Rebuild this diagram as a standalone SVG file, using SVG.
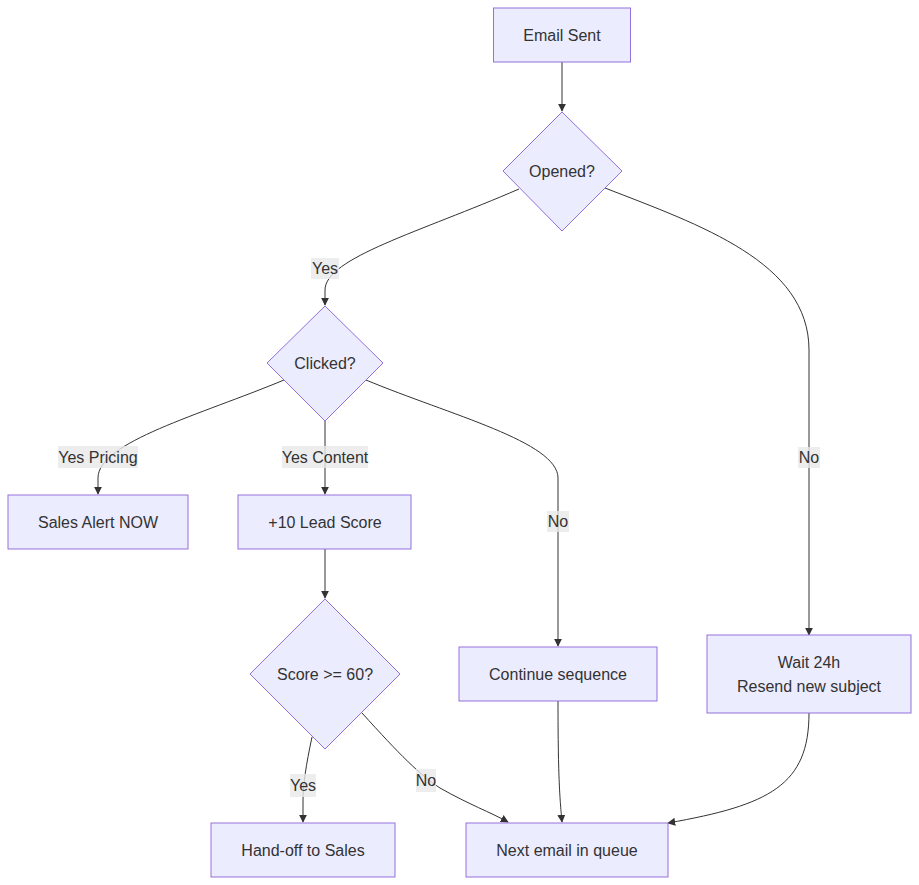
<svg xmlns="http://www.w3.org/2000/svg" width="919" height="885" viewBox="0 0 919 885">
<style>
.n rect,.n polygon{fill:#ECECFF;stroke:#9370DB;stroke-width:1}
.n text,.lbl text{font-family:"Liberation Sans",Arial,sans-serif;font-size:16px;fill:#333;text-anchor:middle;dominant-baseline:central}
.e path{fill:none;stroke:#333;stroke-width:1}
.lbl rect{fill:#E8E8E8;fill-opacity:0.8;stroke:none}
</style>
<defs>
<marker id="ah" viewBox="0 0 10 10" refX="9" refY="5" markerWidth="8" markerHeight="8" markerUnits="userSpaceOnUse" orient="auto">
<path d="M0,0 L10,5 L0,10 z" fill="#333"/>
</marker>
</defs>
<rect width="919" height="885" fill="#fff"/>
<g id="edges" class="e">
<path d="M562,62 L562,111" marker-end="url(#ah)"/>
<path d="M519,189 C420,232 325,258 325,290 L325,305" marker-end="url(#ah)"/>
<path d="M605,188 C700,225 809,262 809,350 L809,635" marker-end="url(#ah)"/>
<path d="M284,380 C200,415 98,442 98,478 L98,494" marker-end="url(#ah)"/>
<path d="M325,421 L325,494" marker-end="url(#ah)"/>
<path d="M366,380 C450,415 558,442 558,478 L558,646" marker-end="url(#ah)"/>
<path d="M325,549 L325,598" marker-end="url(#ah)"/>
<path d="M312,737 C306,765 303,785 303,800 L303,822" marker-end="url(#ah)"/>
<path d="M362,713 C400,755 420,775 440,788 C470,805 490,812 508,822" marker-end="url(#ah)"/>
<path d="M558,701 C558,780 560,800 562,822" marker-end="url(#ah)"/>
<path d="M809,713 C809,785 770,805 668,823" marker-end="url(#ah)"/>
</g>
<g id="labels" class="lbl">
<g><rect x="311" y="258" width="28" height="21"/><text x="325" y="268.5">Yes</text></g>
<g><rect x="798" y="447" width="22" height="21"/><text x="809" y="457.5">No</text></g>
<g><rect x="58" y="446" width="80" height="22"/><text x="98" y="457">Yes Pricing</text></g>
<g><rect x="282" y="446" width="86" height="22"/><text x="325" y="457">Yes Content</text></g>
<g><rect x="547" y="511" width="22" height="21"/><text x="558" y="521.5">No</text></g>
<g><rect x="290" y="774" width="26" height="23"/><text x="303" y="785">Yes</text></g>
<g><rect x="416" y="769" width="20" height="23"/><text x="426" y="780">No</text></g>
</g>
<g id="email_sent" class="n"><rect x="493.5" y="8" width="137" height="54"/><text x="562" y="35">Email Sent</text></g>
<g id="opened" class="n"><polygon points="562,112 622,171 562,231 503,171"/><text x="562" y="171">Opened?</text></g>
<g id="clicked" class="n"><polygon points="325,306 383,363 325,421 267,363"/><text x="325" y="363">Clicked?</text></g>
<g id="sales_alert" class="n"><rect x="8" y="495" width="180" height="54"/><text x="98" y="522">Sales Alert NOW</text></g>
<g id="lead_score" class="n"><rect x="238" y="495" width="173" height="54"/><text x="325" y="522">+10 Lead Score</text></g>
<g id="score_check" class="n"><polygon points="325,599 400,674 325,749 250,674"/><text x="325" y="674">Score &gt;= 60?</text></g>
<g id="continue_seq" class="n"><rect x="459" y="647" width="198" height="54"/><text x="558" y="674">Continue sequence</text></g>
<g id="wait_resend" class="n"><rect x="707" y="635" width="204" height="78"/><text x="809" y="662">Wait 24h</text><text x="809" y="686">Resend new subject</text></g>
<g id="handoff" class="n"><rect x="211" y="823" width="184" height="54"/><text x="303" y="850">Hand-off to Sales</text></g>
<g id="next_email" class="n"><rect x="466" y="823" width="202" height="54"/><text x="567" y="850">Next email in queue</text></g>
</svg>
